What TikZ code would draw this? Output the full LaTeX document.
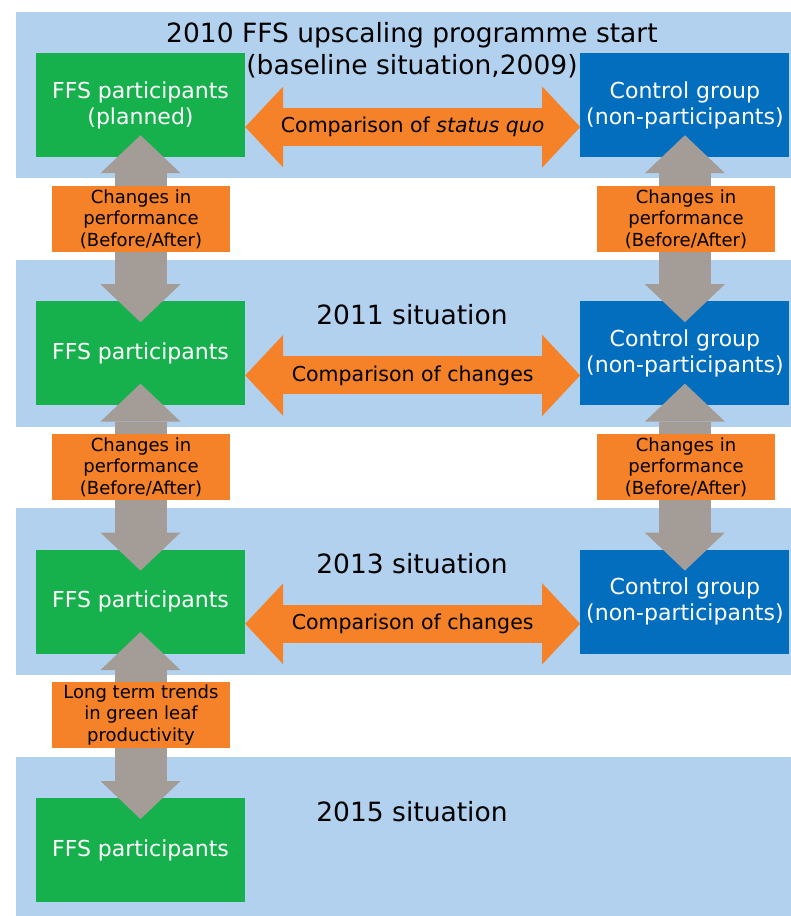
\documentclass[tikz,border=0pt]{standalone}
\usepackage{fontspec}
\setmainfont{DejaVu Sans}
\usepackage{tikz}
\usetikzlibrary{arrows.meta,positioning}

\definecolor{bandblue}{RGB}{178,209,238}
\definecolor{ffsgreen}{RGB}{22,176,76}
\definecolor{ctrlblue}{RGB}{4,110,190}
\definecolor{cmporange}{RGB}{245,130,40}
\definecolor{arrowgrey}{RGB}{164,156,150}

\begin{document}
\begin{tikzpicture}[x=1pt,y=-1pt,
    ffsbox/.style={fill=ffsgreen,minimum width=209pt,minimum height=104pt,inner sep=0pt},
    ctrlbox/.style={ffsbox,fill=ctrlblue},
    boxtext/.style={text=white,align=center,font=\fontsize{22}{26}\selectfont},
    yeartext/.style={align=center,font=\fontsize{26.5}{32}\selectfont},
    changebox/.style={fill=cmporange,minimum width=178pt,minimum height=66pt,inner sep=0pt,
        align=center,font=\fontsize{18}{21.5}\selectfont},
    greyarrow/.style={draw=arrowgrey,line width=52pt,
        arrows={Triangle[length=38pt,width=80pt,line width=0pt]-Triangle[length=38pt,width=80pt,line width=0pt]}},
    cmparrow/.style={draw=cmporange,line width=38pt,
        arrows={Triangle[length=38pt,width=81pt,line width=0pt]-Triangle[length=38pt,width=81pt,line width=0pt]}},
    cmptext/.style={font=\fontsize{20.5}{24}\selectfont}]
    \useasboundingbox (0,0) rectangle (791,916);
    % bands
    \fill[bandblue] (16,12) rectangle (791,178);
    \fill[bandblue] (16,260) rectangle (791,427);
    \fill[bandblue] (16,508) rectangle (791,675);
    \fill[bandblue] (16,757) rectangle (791,916);

    \node[ffsbox] (f1) at (140.5,105) {};
    \node[ffsbox,below=144pt of f1] (f2) {};
    \node[ffsbox,below=144pt of f2] (f3) {};
    \node[ffsbox,below=144pt of f3] (f4) {};
    \node[ctrlbox,right=335pt of f1] (c1) {};
    \node[ctrlbox,right=335pt of f2] (c2) {};
    \node[ctrlbox,right=335pt of f3] (c3) {};

    \draw[greyarrow] ([yshift=22pt]f1.south) -- ([yshift=-21pt]f2.north);
    \draw[greyarrow] ([yshift=22pt]f2.south) -- ([yshift=-21pt]f3.north);
    \draw[greyarrow] ([yshift=22pt]f3.south) -- ([yshift=-21pt]f4.north);
    \draw[greyarrow] ([yshift=22pt]c1.south) -- ([yshift=-21pt]c2.north);
    \draw[greyarrow] ([yshift=22pt]c2.south) -- ([yshift=-21pt]c3.north);

    \draw[cmparrow] ([yshift=-22pt]f1.east) -- ([yshift=-22pt]c1.west)
        node[midway,cmptext] (m1) {Comparison of \textit{status quo}};
    \draw[cmparrow] ([yshift=-22pt]f2.east) -- ([yshift=-22pt]c2.west)
        node[midway,cmptext] (m2) {Comparison of changes};
    \draw[cmparrow] ([yshift=-22pt]f3.east) -- ([yshift=-22pt]c3.west)
        node[midway,cmptext] (m3) {Comparison of changes};

    \node[changebox] (l1) at (141,219) {Changes in\\performance\\(Before/After)};
    \node[changebox] (l2) at (141,467) {Changes in\\performance\\(Before/After)};
    \node[changebox] (l3) at (141,715) {Long term trends\\in green leaf\\productivity};
    \node[changebox] (r1) at (686,219) {Changes in\\performance\\(Before/After)};
    \node[changebox] (r2) at (686,467) {Changes in\\performance\\(Before/After)};

    \node[boxtext] (f1t) at (f1) {FFS participants\\(planned)};
    \node[boxtext] (f2t) at (f2) {FFS participants};
    \node[boxtext] (f3t) at (f3) {FFS participants};
    \node[boxtext] (f4t) at (f4) {FFS participants};
    \node[boxtext] (c1t) at (c1) {Control group\\(non-participants)};
    \node[boxtext] (c2t) at (c2) {Control group\\(non-participants)};
    \node[boxtext] (c3t) at (c3) {Control group\\(non-participants)};

    \node[yeartext] (y1) at (412,50) {2010 FFS upscaling programme start\\(baseline situation,2009)};
    \node[yeartext] (y2) at (412,315) {2011 situation};
    \node[yeartext] (y3) at (412,564) {2013 situation};
    \node[yeartext] (y4) at (412,812) {2015 situation};
\end{tikzpicture}
\end{document}
